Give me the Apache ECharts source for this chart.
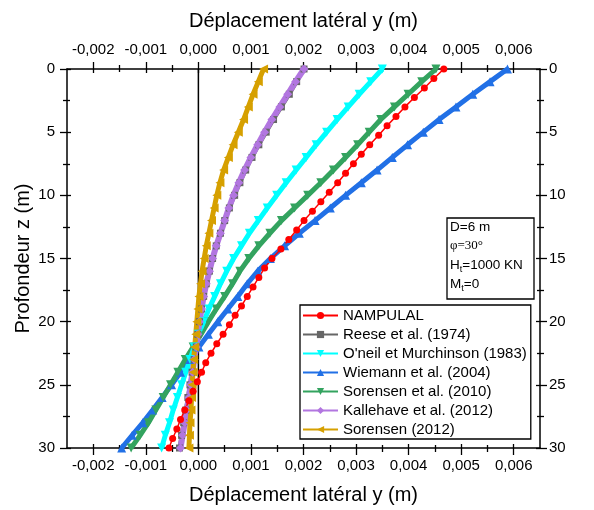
<!DOCTYPE html>
<html><head><meta charset="utf-8">
<script src="https://cdn.jsdelivr.net/npm/echarts@6/dist/echarts.min.js"></script>
<style>html,body{margin:0;padding:0;background:#fff}#c{width:594px;height:510px}</style>
</head><body><div id="c"></div>
<script>
// Depths (m)
const depth = [0,1,2,3,4,5,6,7,8,9,10,11,12,13,14,15,16,17,18,19,20,21,22,23,24,25,26,27,28,29,30];
const depthNampulal = [0,0.75,1.5,2.25,3,3.75,4.5,5.25,6,6.75,7.5,8.25,9,9.75,10.5,11.25,12,12.75,13.5,14.25,15,15.75,16.5,17.25,18,18.75,19.5,20.25,21,21.75,22.5,23.25,24,24.75,25.5,26.25,27,27.75,28.5,29.25,30];
// Lateral displacement y (m)
const nampulal = [0.00467,0.00448,0.0043,0.00411,0.00393,0.00376,0.00359,0.00343,0.00326,0.0031,0.00295,0.0028,0.00265,0.00249,0.00233,0.00217,0.00201,0.00187,0.00172,0.00157,0.0014,0.00126,0.00115,0.00104,0.00093,0.00082,0.0007,0.00059,0.00047,0.00035,0.00024,0.00014,0.00006,-0.00002,-0.0001,-0.00018,-0.00026,-0.00034,-0.00041,-0.00049,-0.00056];
const reese = [0.00201,0.00187,0.00173,0.00158,0.00143,0.00129,0.00115,0.00102,0.0009,0.00079,0.00069,0.00059,0.0005,0.00042,0.00034,0.00027,0.00021,0.00015,0.0001,0.00006,0.00002,-0.00001,-0.00004,-0.00008,-0.00012,-0.00016,-0.0002,-0.00024,-0.00028,-0.00032,-0.00036];
const oneil = [0.0035,0.00328,0.00306,0.00285,0.00264,0.00244,0.00224,0.00205,0.00186,0.00167,0.00149,0.00131,0.00114,0.00097,0.00082,0.00067,0.00054,0.00042,0.00031,0.0002,0.0001,0.0,-0.00008,-0.00016,-0.00024,-0.00032,-0.0004,-0.00048,-0.00055,-0.00063,-0.0007];
const wiemann = [0.00588,0.00555,0.00522,0.0049,0.00458,0.00428,0.00398,0.00369,0.0034,0.0031,0.0028,0.00251,0.00222,0.00192,0.00164,0.00137,0.00113,0.00093,0.00075,0.00056,0.00037,0.00019,0.00001,-0.00017,-0.00034,-0.00051,-0.00069,-0.00087,-0.00106,-0.00126,-0.00146];
const sorensen2010 = [0.00452,0.00425,0.00399,0.00373,0.00347,0.00325,0.00303,0.0028,0.00257,0.00233,0.00208,0.00183,0.00158,0.00136,0.00115,0.00096,0.00079,0.00065,0.0005,0.00034,0.00019,0.00005,-0.0001,-0.00025,-0.00039,-0.00053,-0.00067,-0.00081,-0.00095,-0.00111,-0.00128];
const kallehave = [0.00201,0.00185,0.0017,0.00155,0.0014,0.00126,0.00113,0.001,0.00088,0.00077,0.00067,0.00058,0.0005,0.00042,0.00034,0.00027,0.00021,0.00015,0.0001,0.00006,0.00002,-0.00001,-0.00004,-0.00008,-0.00011,-0.00015,-0.00018,-0.00022,-0.00026,-0.0003,-0.00034];
const sorensen2012 = [0.00124,0.00114,0.00104,0.00095,0.00086,0.00076,0.00066,0.00057,0.00048,0.00041,0.00035,0.0003,0.00025,0.0002,0.00015,0.00011,0.00007,0.00004,0.00001,-0.00001,-0.00003,-0.00005,-0.00007,-0.00009,-0.0001,-0.00012,-0.00013,-0.00014,-0.00016,-0.00017,-0.00018];
const zeroLineX = [0,0];
const zeroLineZ = [0,30];
// Tick values
const xMajorTicks = [-0.002,-0.001,0,0.001,0.002,0.003,0.004,0.005,0.006];
const xMinorTicks = [-0.0015,-0.0005,0.0005,0.0015,0.0025,0.0035,0.0045,0.0055];
const yMajorTicks = [0,5,10,15,20,25,30];
const yMinorTicks = [2.5,7.5,12.5,17.5,22.5,27.5];

const FONT = 'Liberation Sans, Arial, Helvetica, sans-serif';
const pairs = (xs, zs) => xs.map((v, i) => [v, zs[i]]);
const fmtX = v => (Math.abs(v) < 1e-12 ? '0,000' : v.toFixed(3).replace('.', ','));

const hiddenLine = {show: false, onZero: false};
function xAx(pos, opts) {
  return Object.assign({
    type: 'value', position: pos, min: -0.0025, max: 0.0065, gridIndex: 0,
    splitLine: {show: false},
    axisLine: hiddenLine,
    axisLabel: {show: false},
    axisTick: {show: false}
  }, opts);
}
function yAx(pos, opts) {
  return Object.assign({
    type: 'value', position: pos, min: 0, max: 30, inverse: true, gridIndex: 0,
    splitLine: {show: false},
    axisLine: hiddenLine,
    axisLabel: {show: false},
    axisTick: {show: false}
  }, opts);
}
const tick = (vals, len, inside) => ({show: true, customValues: vals, length: len, inside: inside, lineStyle: {color: '#000', width: 1.3}});
const line = {show: true, onZero: false, lineStyle: {color: '#000', width: 1.5}};
const xName = 'Déplacement latéral y (m)';

const xAxes = [
  xAx('bottom', {axisLine: line, axisTick: tick(xMajorTicks, 7, false),
    axisLabel: {show: true, customValues: xMajorTicks, formatter: fmtX, fontSize: 15, fontFamily: FONT, color: '#000', margin: 10},
    name: xName, nameLocation: 'middle', nameGap: 37, nameTextStyle: {fontSize: 20, fontFamily: FONT, color: '#000'}}),
  xAx('top', {axisLine: line, axisTick: tick(xMajorTicks, 7, false),
    axisLabel: {show: true, customValues: xMajorTicks, formatter: fmtX, fontSize: 15, fontFamily: FONT, color: '#000', margin: 12},
    name: xName, nameLocation: 'middle', nameGap: 38, nameTextStyle: {fontSize: 20, fontFamily: FONT, color: '#000'}}),
  xAx('bottom', {axisTick: tick(xMajorTicks, 4, true)}),
  xAx('top', {axisTick: tick(xMajorTicks, 4, true)}),
  xAx('bottom', {axisTick: tick(xMinorTicks, 4, false)}),
  xAx('top', {axisTick: tick(xMinorTicks, 4, false)}),
  xAx('bottom', {axisTick: tick(xMinorTicks, 3, true)}),
  xAx('top', {axisTick: tick(xMinorTicks, 3, true)})
];
const yAxes = [
  yAx('left', {axisLine: line, axisTick: tick(yMajorTicks, 7, false),
    axisLabel: {show: true, customValues: yMajorTicks, fontSize: 15, fontFamily: FONT, color: '#000', margin: 12},
    name: 'Profondeur z (m)', nameLocation: 'middle', nameGap: 34, nameMoveOverlap: false,
    nameTextStyle: {fontSize: 20, fontFamily: FONT, color: '#000'}}),
  yAx('right', {axisLine: line, axisTick: tick(yMajorTicks, 7, false),
    axisLabel: {show: true, customValues: yMajorTicks, fontSize: 15, fontFamily: FONT, color: '#000', margin: 9}}),
  yAx('left', {axisTick: tick(yMajorTicks, 4, true)}),
  yAx('right', {axisTick: tick(yMajorTicks, 4, true)}),
  yAx('left', {axisTick: tick(yMinorTicks, 4, false)}),
  yAx('right', {axisTick: tick(yMinorTicks, 4, false)}),
  yAx('left', {axisTick: tick(yMinorTicks, 3, true)}),
  yAx('right', {axisTick: tick(yMinorTicks, 3, true)})
];

function curve(name, xs, zs, color, symbol, size, rotate, width) {
  return {
    name: name, type: 'line', xAxisIndex: 0, yAxisIndex: 0,
    data: pairs(xs, zs), showSymbol: true, symbol: symbol, symbolSize: size, symbolRotate: rotate,
    smooth: false, animation: false,
    lineStyle: {color: color, width: width},
    itemStyle: {color: color, borderWidth: 0}
  };
}

const names = ['NAMPULAL', 'Reese et al. (1974)', "O'neil et Murchinson (1983)", 'Wiemann et al. (2004)', 'Sorensen et al. (2010)', 'Kallehave et al. (2012)', 'Sorensen (2012)'];

const option = {
  backgroundColor: '#fff',
  animation: false,
  grid: {left: 67, right: 54, top: 69, bottom: 60, containLabel: false},
  xAxis: xAxes,
  yAxis: yAxes,
  legend: {
    orient: 'vertical', left: 300, top: 305, itemWidth: 35, itemHeight: 9, itemGap: 4,
    padding: [3, 4, 2, 2], borderColor: '#000', borderWidth: 1.3, backgroundColor: '#fff', borderRadius: 0,
    textStyle: {fontSize: 15, fontFamily: FONT, color: '#000', lineHeight: 15},
    data: names
  },
  series: [
    {name: 'zero', type: 'line', data: pairs(zeroLineX, zeroLineZ), showSymbol: false, silent: true,
     lineStyle: {color: '#000', width: 1.5}, z: 1},
    curve(names[3], wiemann, depth, '#2170E6', 'triangle', 9, 0, 5),
    curve(names[4], sorensen2010, depth, '#33A35F', 'triangle', 9, 180, 5),
    curve(names[2], oneil, depth, '#00FFFF', 'triangle', 9, 180, 5),
    curve(names[1], reese, depth, '#666666', 'rect', 7, 0, 4),
    curve(names[5], kallehave, depth, '#B276E0', 'diamond', 9, 0, 6),
    curve(names[6], sorensen2012, depth, '#D6A000', 'triangle', 9, 90, 5),
    curve(names[0], nampulal, depthNampulal, '#FF0000', 'circle', 7, 0, 1.5)
  ],
  graphic: [
    {type: 'rect', shape: {x: 447, y: 218, width: 87, height: 81}, style: {fill: '#fff', stroke: '#000', lineWidth: 1.3}, z: 100},
    {type: 'text', left: 450, top: 220, z: 101, style: {
      text: '{n|D=6 m}\n{g|\u03c6=30°}\n{n|H}{s|t}{n|=1000 KN}\n{n|M}{s|t}{n|=0}',
      rich: {
        n: {fontSize: 13.5, fontFamily: FONT, fill: '#000', lineHeight: 19},
        g: {fontSize: 13, fontFamily: 'Liberation Serif, Times New Roman, serif', fill: '#000', lineHeight: 19},
        s: {fontSize: 9, fontFamily: FONT, fill: '#000', lineHeight: 10, verticalAlign: 'bottom'}
      }
    }}
  ]
};
const chart = echarts.init(document.getElementById('c'), null, {renderer: 'canvas'});
chart.setOption(option);
</script></body></html>
